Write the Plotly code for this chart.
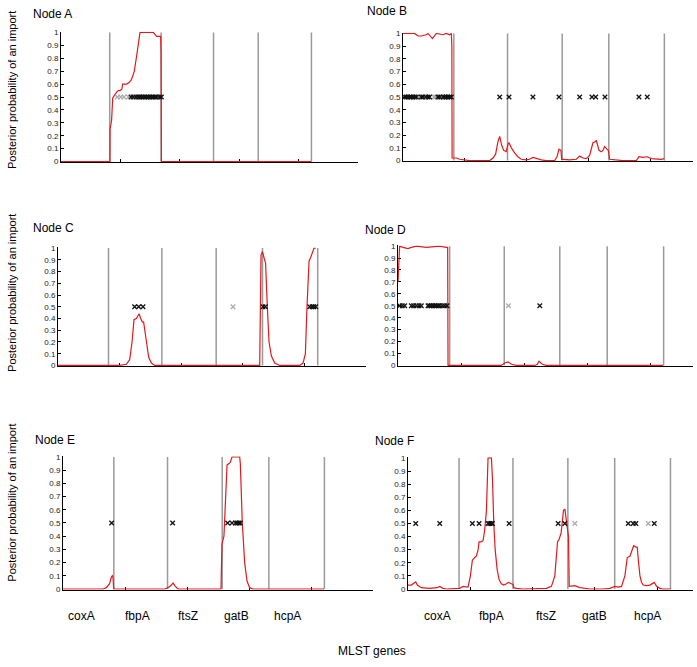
import plotly.graph_objects as go

W, H = 697, 667

genes = ["coxA", "fbpA", "ftsZ", "gatB", "hcpA"]
gene_bounds = [410, 843, 1284, 1660, 2108]
y_ticks = [0, 0.1, 0.2, 0.3, 0.4, 0.5, 0.6, 0.7, 0.8, 0.9, 1]
y_tick_text = ["0", "0.1", "0.2", "0.3", "0.4", "0.5", "0.6", "0.7", "0.8", "0.9", "1"]
nodes = ["Node A", "Node B", "Node C", "Node D", "Node E", "Node F"]

# ---- posterior probability curves (position in bp, probability) ----
A_x = [0, 412, 413, 418, 426, 435, 440, 455, 470, 483, 497, 512, 519, 530, 553, 570, 590, 603,
       617, 637, 651, 665, 777, 791, 805, 839, 842, 845, 1000, 1500, 2000, 2108]
A_y = [0, 0, 0.25, 0.28, 0.32, 0.49, 0.5, 0.52, 0.54, 0.55, 0.55, 0.56, 0.6, 0.6, 0.6, 0.61, 0.63,
       0.66, 0.7, 0.82, 0.93, 1.0, 1.0, 0.98, 0.97, 0.97, 0.85, 0.0, 0.0, 0.0, 0.0, 0.0]

B_x = [0, 94, 121, 148, 188, 202, 237, 269, 323, 349, 376, 390, 394, 396, 403, 430, 457, 511, 538,
       699, 726, 747, 766, 780, 796, 812, 828, 833, 847, 855, 874, 900, 927, 954, 995, 1021, 1048,
       1075, 1116, 1156, 1223, 1242, 1258, 1274, 1280, 1290, 1344, 1398, 1425, 1452, 1478, 1505,
       1532, 1554, 1559, 1581, 1599, 1613, 1626, 1645, 1656, 1667, 1720, 1774, 1882, 1903, 1935,
       1970, 2003, 2043, 2083, 2107]
B_y = [1.0, 1.0, 0.98, 0.98, 0.99, 1.0, 0.96, 1.0, 0.99, 1.0, 0.99, 1.0, 0.9, 0.02, 0.02, 0.02,
       0.01, 0.005, 0, 0, 0.02, 0.05, 0.15, 0.19, 0.12, 0.08, 0.07, 0.07, 0.13, 0.14, 0.1, 0.06,
       0.03, 0.01, 0.005, 0.01, 0.025, 0.015, 0.005, 0, 0, 0.03, 0.09, 0.08, 0.01, 0.01, 0.005,
       0.01, 0.035, 0.02, 0.015, 0.04, 0.14, 0.15, 0.16, 0.08, 0.07, 0.08, 0.11, 0.09, 0.08, 0.01,
       0.005, 0, 0, 0.03, 0.025, 0.03, 0.015, 0.01, 0.01, 0.015]

C_x = [0, 501, 555, 582, 601, 617, 636, 658, 671, 685, 695, 717, 736, 758, 785, 1637, 1648, 1659,
       1672, 1685, 1699, 1713, 1732, 1759, 1800, 1962, 1989, 2008, 2021, 2038, 2051, 2070, 2078, 2092]
C_y = [0, 0, 0.01, 0.05, 0.2, 0.39, 0.4, 0.44, 0.4, 0.37, 0.37, 0.2, 0.07, 0.02, 0, 0, 0.94, 0.97,
       0.92, 0.87, 0.5, 0.2, 0.08, 0.02, 0, 0, 0.02, 0.1, 0.5, 0.89, 0.92, 0.98, 1.0, 1.0]

D_x = [0, 8, 13, 40, 79, 106, 146, 225, 278, 331, 384, 394, 397, 820, 847, 873, 900, 939, 1085,
       1106, 1119, 1146, 1177, 2104]
D_y = [0.7, 0.95, 1.0, 0.99, 0.98, 0.99, 1.0, 0.99, 0.995, 1.0, 0.99, 0.99, 0, 0, 0.02, 0.03, 0.01,
       0, 0, 0.01, 0.035, 0.01, 0, 0]

E_x = [0, 323, 349, 376, 390, 398, 403, 409, 820, 847, 874, 887, 906, 927, 1274, 1282, 1298, 1323,
       1339, 1349, 1363, 1425, 1430, 1446, 1465, 1484, 1505, 1532, 2105]
E_y = [0, 0, 0.01, 0.04, 0.09, 0.1, 0.09, 0, 0, 0.01, 0.03, 0.045, 0.02, 0, 0, 0.34, 0.4, 0.94,
       0.95, 0.96, 1.0, 1.0, 0.95, 0.5, 0.2, 0.06, 0.01, 0, 0]

F_x = [0, 27, 54, 62, 75, 107, 174, 233, 255, 281, 308, 389, 415, 442, 482, 501, 517, 536, 549, 563,
       571, 590, 603, 616, 630, 638, 643, 670, 678, 689, 700, 716, 732, 750, 769, 791, 807, 831, 844,
       850, 871, 925, 1085, 1112, 1152, 1179, 1201, 1214, 1230, 1241, 1249, 1260, 1268, 1281, 1289,
       1295, 1313, 1340, 1380, 1407, 1461, 1568, 1621, 1662, 1688, 1715, 1742, 1761, 1782, 1801,
       1812, 1830, 1841, 1852, 1863, 1876, 1889, 1916, 1943, 1978, 1997, 2023, 2050, 2112]
F_y = [0.03, 0.03, 0.05, 0.055, 0.03, 0.01, 0.005, 0.01, 0.02, 0.005, 0, 0, 0.005, 0.02, 0.015, 0.1,
       0.22, 0.24, 0.25, 0.3, 0.36, 0.36, 0.37, 0.45, 0.6, 0.85, 1.0, 1.0, 0.85, 0.5, 0.3, 0.15, 0.07,
       0.04, 0.03, 0.04, 0.05, 0.04, 0.035, 0.01, 0.005, 0, 0, 0.005, 0.02, 0.1, 0.36, 0.38, 0.43,
       0.55, 0.6, 0.61, 0.55, 0.45, 0.4, 0.02, 0.02, 0.025, 0.01, 0.005, 0, 0, 0.005, 0.02, 0.015,
       0.02, 0.1, 0.24, 0.25, 0.3, 0.33, 0.32, 0.32, 0.2, 0.1, 0.05, 0.03, 0.025, 0.03, 0.05, 0.02,
       0.005, 0, 0]

# ---- polymorphic sites (plotted at 0.5) ----
A_sites = [589, 609, 631, 651, 665, 679, 693, 707, 721, 735, 749, 763, 777, 791, 805, 828, 845]
A_faint = [474, 502, 530, 567]
B_sites = [13, 27, 40, 54, 67, 81, 94, 108, 148, 161, 183, 202, 215, 282, 296, 323, 336, 349, 363,
           376, 390, 780, 855, 1048, 1258, 1425, 1524, 1554, 1629, 1903, 1970]
B_faint = [130, 250, 263, 310]
C_sites = [622, 655, 690, 1664, 1683, 2043, 2062, 2076, 2092]
C_faint = [1421]
D_sites = [13, 34, 53, 106, 124, 146, 167, 185, 238, 251, 265, 278, 291, 304, 318, 331, 352, 370,
           389, 1125]
D_faint = [876]
E_sites = [392, 884, 1328, 1363, 1392, 1406, 1419, 1430]
E_faint = []
F_sites = [62, 255, 517, 571, 643, 657, 670, 678, 812, 1206, 1260, 1769, 1809, 1830, 1978]
F_faint = [1340, 1930]

curves = [(A_x, A_y), (B_x, B_y), (C_x, C_y), (D_x, D_y), (E_x, E_y), (F_x, F_y)]
sites = [(A_sites, A_faint), (B_sites, B_faint), (C_sites, C_faint),
         (D_sites, D_faint), (E_sites, E_faint), (F_sites, F_faint)]

# ---- layout geometry (window pixels) ----
panel_px = [  # left, right, top(y=1), bottom(y=0)
    (61, 358, 29, 161),
    (403, 693, 30, 160),
    (58, 366, 247, 367),
    (398, 693, 245, 367),
    (63, 373, 458, 593),
    (408, 693, 459, 593),
]
x_ranges = [2500, 2339, 2500, 2341, 2500, 2289]
title_px = [(31, 11), (365, 8.5), (31, 227), (363, 229.5), (33, 441.5), (373, 442.5)]


def px_x(p):
    return p / W


def px_y(p):
    return (H - p) / H


FONT = "Liberation Sans, Arial, Helvetica, sans-serif"
fig = go.Figure()
layout = dict(width=W, height=H, margin=dict(l=0, r=0, t=0, b=0), autosize=False,
              paper_bgcolor="white", plot_bgcolor="white", showlegend=False,
              font=dict(family=FONT, color="black"))
annotations = []

for i in range(6):
    n = i + 1
    xa = "x" if n == 1 else f"x{n}"
    ya = "y" if n == 1 else f"y{n}"
    l, r, t, b = panel_px[i]
    pad = 0.006
    layout[f"xaxis{'' if n == 1 else n}"] = dict(
        domain=[px_x(l), px_x(r)], range=[0, x_ranges[i]], anchor=ya,
        showline=True, linecolor="black", linewidth=1, mirror=False,
        ticks="inside", ticklen=3, tickcolor="black", tickwidth=1,
        tickvals=[0, 500, 1000, 1500, 2000, 2500], showticklabels=False,
        showgrid=False, zeroline=False, layer="below traces", fixedrange=True)
    layout[f"yaxis{'' if n == 1 else n}"] = dict(
        domain=[px_y(b), px_y(t)], range=[0 - pad, 1 + pad], anchor=xa,
        showline=True, linecolor="black", linewidth=1,
        ticks="inside", ticklen=3, tickcolor="black", tickwidth=1,
        tickvals=y_ticks, ticktext=y_tick_text, tickfont=dict(size=8, color="#222"),
        showgrid=False, zeroline=False, layer="below traces", fixedrange=True)

    gx, gy = [], []
    for gb in gene_bounds:
        gx += [gb, gb, None]
        gy += [0, 1, None]
    fig.add_trace(go.Scatter(x=gx, y=gy, mode="lines", xaxis=xa, yaxis=ya,
                             line=dict(color="#9a9a9a", width=1.5), hoverinfo="skip"))
    cx, cy = curves[i]
    fig.add_trace(go.Scatter(x=cx, y=cy, mode="lines", xaxis=xa, yaxis=ya,
                             line=dict(color="#e3191c", width=1.2)))
    s_black, s_faint = sites[i]
    if s_faint:
        fig.add_trace(go.Scatter(x=s_faint, y=[0.5] * len(s_faint), mode="markers",
                                 xaxis=xa, yaxis=ya,
                                 marker=dict(symbol="x-thin", size=4.5, color="#aaaaaa",
                                             line=dict(color="#aaaaaa", width=1.2))))
    fig.add_trace(go.Scatter(x=s_black, y=[0.5] * len(s_black), mode="markers",
                             xaxis=xa, yaxis=ya,
                             marker=dict(symbol="x-thin", size=4.5, color="#111111",
                                         line=dict(color="#111111", width=1.3))))

    tx, ty = title_px[i]
    annotations.append(dict(text=nodes[i], x=px_x(tx), y=px_y(ty), xref="paper", yref="paper",
                            xanchor="left", yanchor="middle", showarrow=False,
                            font=dict(size=12, family=FONT)))

# y labels
for yc in [88, 293, 505]:
    annotations.append(dict(text="Posterior probability of an import", x=px_x(12), y=px_y(yc),
                            xref="paper", yref="paper", xanchor="center", yanchor="middle",
                            textangle=-90, showarrow=False, font=dict(size=11, family=FONT)))

# gene labels
left_label_px = [81, 137, 188, 236, 287]
right_label_px = [437, 491, 546, 594, 647]
for g, lx, rx in zip(genes, left_label_px, right_label_px):
    for p in (lx, rx):
        annotations.append(dict(text=g, x=px_x(p), y=px_y(620), xref="paper", yref="paper",
                                xanchor="center", yanchor="middle", showarrow=False,
                                font=dict(size=12, family=FONT)))

annotations.append(dict(text="MLST genes", x=px_x(372), y=px_y(655), xref="paper", yref="paper",
                        xanchor="center", yanchor="middle", showarrow=False,
                        font=dict(size=12, family=FONT)))

layout["annotations"] = annotations
fig.update_layout(**layout)
fig.write_html("out.html",
               config={"displayModeBar": False, "staticPlot": True},
               post_script="document.body.style.margin='0';document.body.style.padding='0';"
                           "document.body.style.overflow='hidden';")
